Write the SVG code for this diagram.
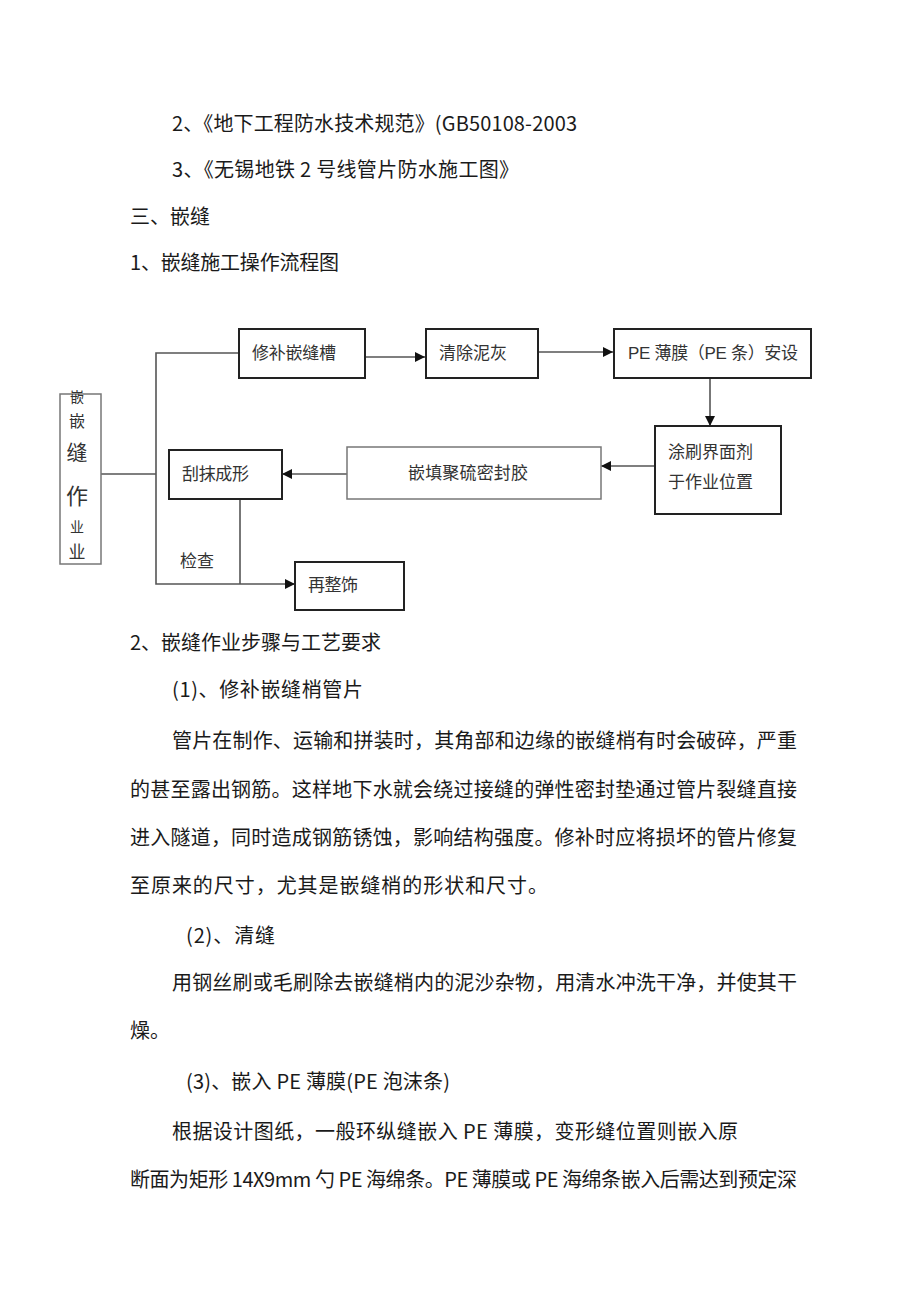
<svg xmlns="http://www.w3.org/2000/svg" width="920" height="1303" viewBox="0 0 920 1303">
<style>
.body{font-family:"Noto Sans CJK SC","Liberation Sans",sans-serif;font-size:20px;fill:#1a1a1a}
.lbl{font-family:"Liberation Sans","Noto Sans CJK SC",sans-serif;font-size:17px;fill:#333}
.vt{font-family:"Noto Sans CJK SC",sans-serif;fill:#333;text-anchor:middle}
.box{fill:#fff;stroke:#222;stroke-width:2}
.boxl{fill:#fff;stroke:#777;stroke-width:1.5}
.ln{fill:none;stroke:#555;stroke-width:1.6}
</style>
<defs>
<marker id="ah" markerUnits="userSpaceOnUse" markerWidth="10" markerHeight="10" viewBox="0 0 10 10" refX="10" refY="5" orient="auto">
<path d="M0,0 L10,5 L0,10 Z" fill="#111"/>
</marker>
</defs>
<rect width="920" height="1303" fill="#fff"/>

<g id="text-top">
<text class="body" x="172" y="131" textLength="405" lengthAdjust="spacing">2、《地下工程防水技术规范》(GB50108-2003</text>
<text class="body" x="172" y="177" textLength="347" lengthAdjust="spacing">3、《无锡地铁 2 号线管片防水施工图》</text>
<text class="body" x="130" y="224">三、嵌缝</text>
<text class="body" x="130" y="270" textLength="209" lengthAdjust="spacing">1、嵌缝施工操作流程图</text>
</g>

<g id="connectors">
<line class="ln" x1="101" y1="474" x2="156" y2="474"/>
<polyline class="ln" points="239,353 156,353 156,584 240,584"/>
<line class="ln" x1="240" y1="584" x2="295" y2="584" marker-end="url(#ah)"/>
<line class="ln" x1="240" y1="499" x2="240" y2="584"/>
<line class="ln" x1="365" y1="357" x2="425" y2="357" marker-end="url(#ah)"/>
<line class="ln" x1="538" y1="352" x2="613" y2="352" marker-end="url(#ah)"/>
<line class="ln" x1="710" y1="378" x2="710" y2="426" marker-end="url(#ah)"/>
<line class="ln" x1="655" y1="466" x2="601" y2="466" marker-end="url(#ah)"/>
<line class="ln" x1="347" y1="474" x2="282" y2="474" marker-end="url(#ah)"/>
</g>

<g id="node-main">
<rect class="boxl" x="60" y="394" width="41" height="170"/>
<text class="vt" x="77" y="402" style="font-size:14px">嵌</text>
<text class="vt" x="77" y="427" style="font-size:16px">嵌</text>
<text class="vt" x="77" y="460" style="font-size:21px">缝</text>
<text class="vt" x="77" y="504" style="font-size:22px">作</text>
<text class="vt" x="77" y="532" style="font-size:14px">业</text>
<text class="vt" x="77" y="558" style="font-size:17px">业</text>
</g>

<g id="node-repair">
<rect class="box" x="239" y="329" width="126" height="49"/>
<text class="lbl" x="252" y="359" textLength="84" lengthAdjust="spacing">修补嵌缝槽</text>
</g>

<g id="node-clean">
<rect class="box" x="426" y="329" width="112" height="49"/>
<text class="lbl" x="439" y="359" textLength="68" lengthAdjust="spacing">清除泥灰</text>
</g>

<g id="node-pe">
<rect class="box" x="614" y="329" width="197" height="49"/>
<text class="lbl" x="628" y="359" textLength="170" lengthAdjust="spacing">PE 薄膜（PE 条）安设</text>
</g>

<g id="node-brush">
<rect class="box" x="655" y="426" width="126" height="88"/>
<text class="lbl" x="668" y="458" textLength="85" lengthAdjust="spacing">涂刷界面剂</text>
<text class="lbl" x="668" y="488" textLength="85" lengthAdjust="spacing">于作业位置</text>
</g>

<g id="node-fill">
<rect class="boxl" x="347" y="447" width="254" height="52"/>
<text class="lbl" x="408" y="479" textLength="120" lengthAdjust="spacing">嵌填聚硫密封胶</text>
</g>

<g id="node-shape">
<rect class="box" x="169" y="450" width="113" height="49"/>
<text class="lbl" x="182" y="480" textLength="67" lengthAdjust="spacing">刮抹成形</text>
</g>

<g id="node-check-label">
<text class="lbl" x="180" y="567" textLength="34" lengthAdjust="spacing">检查</text>
</g>

<g id="node-finish">
<rect class="box" x="295" y="562" width="109" height="48"/>
<text class="lbl" x="308" y="591" textLength="50" lengthAdjust="spacing">再整饰</text>
</g>

<g id="text-body">
<text class="body" x="130" y="650" textLength="251" lengthAdjust="spacing">2、嵌缝作业步骤与工艺要求</text>
<text class="body" x="172" y="697" textLength="191" lengthAdjust="spacing">(1)、修补嵌缝梢管片</text>
<text class="body" x="172" y="748" textLength="625" lengthAdjust="spacing">管片在制作、运输和拼装时，其角部和边缘的嵌缝梢有时会破碎，严重</text>
<text class="body" x="130" y="797" textLength="667" lengthAdjust="spacing">的甚至露出钢筋。这样地下水就会绕过接缝的弹性密封垫通过管片裂缝直接</text>
<text class="body" x="130" y="845" textLength="667" lengthAdjust="spacing">进入隧道，同时造成钢筋锈蚀，影响结构强度。修补时应将损坏的管片修复</text>
<text class="body" x="130" y="893" textLength="418" lengthAdjust="spacing">至原来的尺寸，尤其是嵌缝梢的形状和尺寸。</text>
<text class="body" x="186" y="943" textLength="89" lengthAdjust="spacing">(2)、清缝</text>
<text class="body" x="172" y="990" textLength="625" lengthAdjust="spacing">用钢丝刷或毛刷除去嵌缝梢内的泥沙杂物，用清水冲洗干净，并使其干</text>
<text class="body" x="130" y="1038">燥。</text>
<text class="body" x="186" y="1089" textLength="264" lengthAdjust="spacing">(3)、嵌入 PE 薄膜(PE 泡沫条)</text>
<text class="body" x="172" y="1139" textLength="566" lengthAdjust="spacing">根据设计图纸，一般环纵缝嵌入 PE 薄膜，变形缝位置则嵌入原</text>
<text class="body" x="130" y="1187" textLength="667" lengthAdjust="spacing">断面为矩形 14X9mm 勺 PE 海绵条。PE 薄膜或 PE 海绵条嵌入后需达到预定深</text>
</g>
</svg>
